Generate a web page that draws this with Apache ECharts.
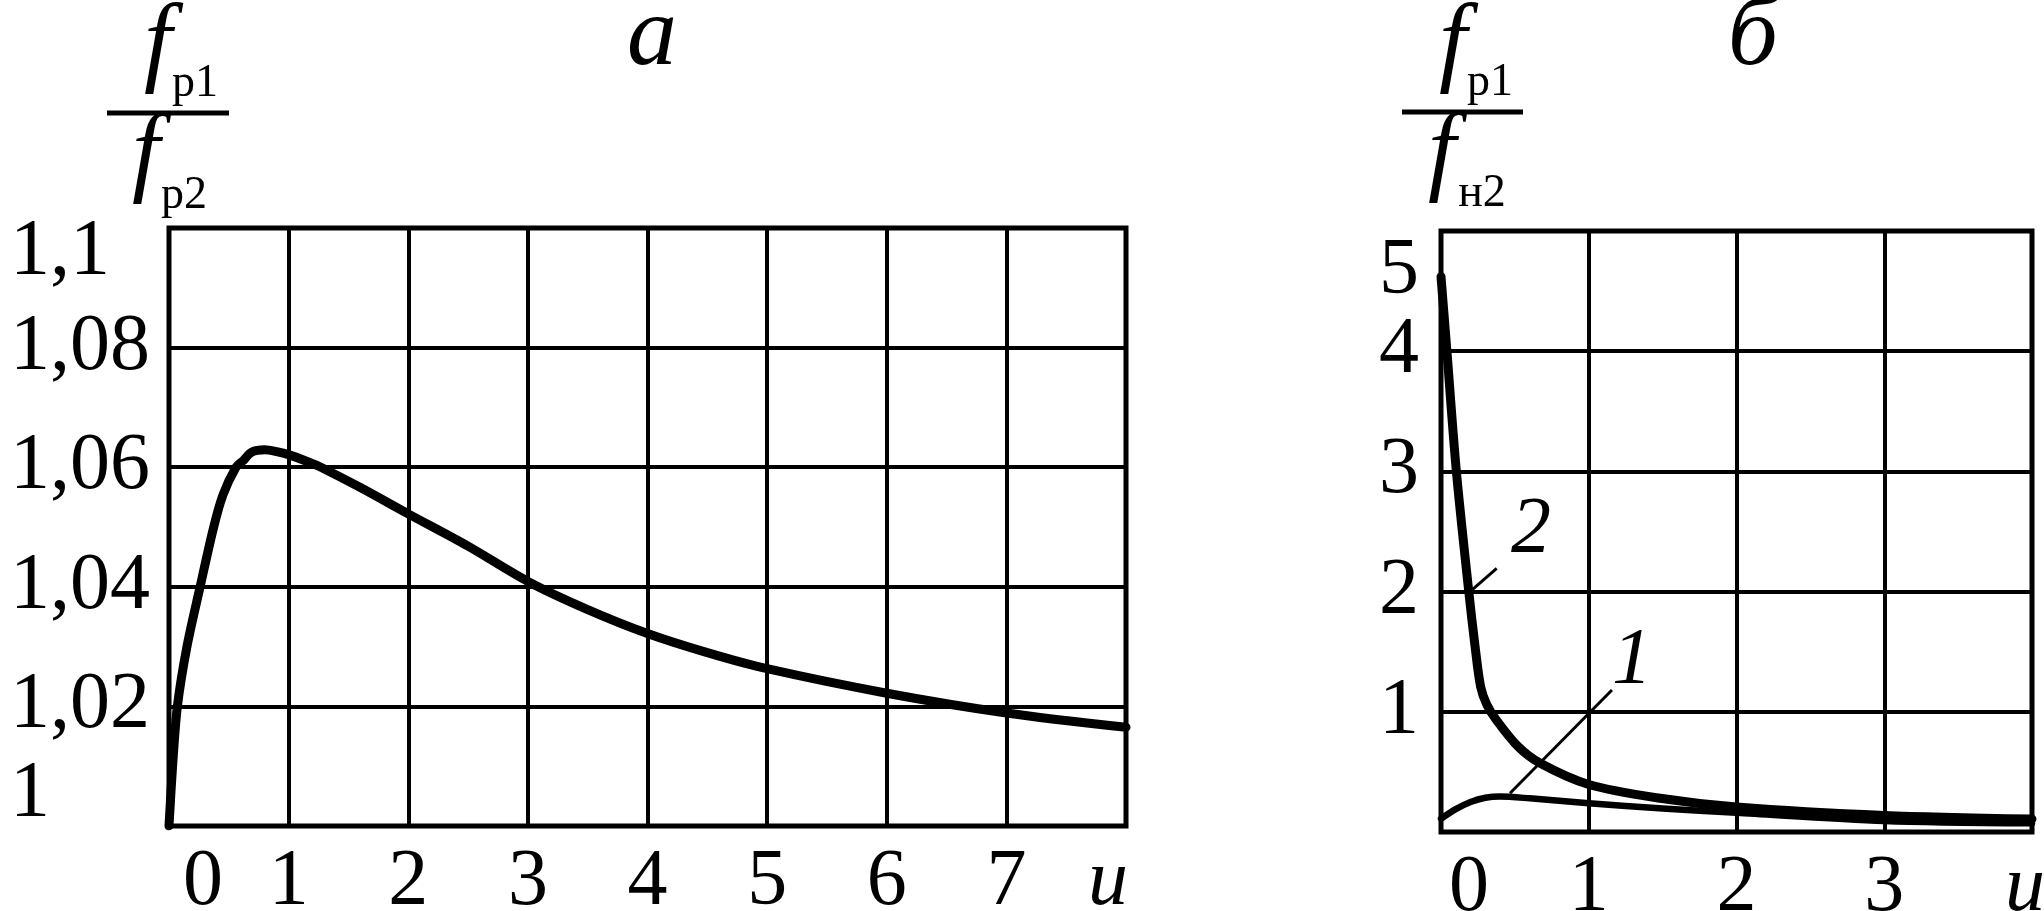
<!DOCTYPE html>
<html><head><meta charset="utf-8">
<script src="https://cdn.jsdelivr.net/npm/echarts@6/dist/echarts.min.js"></script>
<style>html,body{margin:0;padding:0;background:#fff}#c{width:2044px;height:911px}</style>
</head><body><div id="c"></div>
<script>
// ---- Chart а: f_p1/f_p2 vs u ----
const uA      = [0, 0.03, 0.07, 0.15, 0.26, 0.37, 0.45, 0.56, 0.62, 0.69, 0.8, 0.9, 1.0, 1.175, 1.27, 1.6, 2, 2.5, 3, 3.5, 4, 4.5, 5, 6, 7, 8];
const ratioA  = [1.0, 1.01, 1.02, 1.03, 1.04, 1.0497, 1.0553, 1.06, 1.0611, 1.0625, 1.0629, 1.0626, 1.0621, 1.0608, 1.06, 1.0566, 1.0522, 1.0468, 1.0409, 1.0362, 1.0322, 1.029, 1.0263, 1.0222, 1.0189, 1.0165];
// ---- Chart б: f_p1/f_н2 vs u ----
const uB1     = [0, 0.1, 0.2, 0.3, 0.4, 0.6, 1, 1.5, 2, 3, 4];
const ratioB1 = [0.11, 0.19, 0.25, 0.285, 0.295, 0.28, 0.24, 0.195, 0.16, 0.092, 0.072];
const uB2     = [0, 0.04, 0.104, 0.188, 0.23, 0.268, 0.31, 0.373, 0.52, 0.669, 1.0, 1.47, 2, 3, 4];
const ratioB2 = [4.62, 4.0, 3.0, 2.0, 1.55, 1.21, 1.06, 0.935, 0.713, 0.574, 0.395, 0.283, 0.208, 0.138, 0.108];
// curve tags and their leader lines (data coordinates)
const tagNames   = ['1', '2'];
const tagU       = [1.293, 0.609];
const tagV       = [1.414, 2.504];
const leader1U   = [0.467, 1.157];
const leader1V   = [0.322, 1.181];
const leader2U   = [0.208, 0.377];
const leader2V   = [2.013, 2.194];
// tick labels
const xTicksA = ['0','1','2','3','4','5','6','7','u'];
const yTicksA = ['1','1,02','1,04','1,06','1,08','1,1'];
const xTicksB = ['0','1','2','3','u'];
const yTicksB = ['','1','2','3','4','5'];

const FF = '"Liberation Serif", "Times New Roman", serif';
const zip = (a, b) => a.map((v, i) => [v, b[i]]);

const xLabel = (ticks, padL, padR) => ({
  margin: 17, showMinLabel: true, showMaxLabel: true, hideOverlap: false,
  fontSize: 80, fontFamily: FF, color: '#000',
  formatter: v => {
    const i = Math.round(v), t = ticks[i];
    if (i === 0) return '{z|' + t + '}';
    if (i === ticks.length - 1) return '{u|' + t + '}';
    return '{n|' + t + '}';
  },
  rich: {
    n: {fontSize: 80, fontFamily: FF, color: '#000'},
    z: {fontSize: 80, fontFamily: FF, color: '#000', padding: [0, 0, 0, padL]},
    u: {fontSize: 80, fontFamily: FF, color: '#000', fontStyle: 'italic', padding: [0, padR, 0, 0]}
  }
});
const split = {show: true, lineStyle: {color: '#000', width: 4}};
const yRich = (extra) => Object.assign({fontSize: 80, fontFamily: FF, color: '#000', lineHeight: 20}, extra || {});
const lastB = yTicksB.length - 1;

const chart = echarts.init(document.getElementById('c'), null, {renderer: 'canvas'});
const txt = (text, x, y, size, italic) => ({
  type: 'text', x: x, y: y, z: 10,
  style: {text: text, font: (italic ? 'italic ' : '') + size + 'px ' + FF, fill: '#000',
          textAlign: 'center', textVerticalAlign: 'middle', align: 'center', verticalAlign: 'middle'}
});
const bar = (x1, x2, y) => ({type: 'line', z: 10, shape: {x1: x1, y1: y, x2: x2, y2: y}, style: {stroke: '#000', lineWidth: 5}});

chart.setOption({
  backgroundColor: '#fff',
  animation: false,
  grid: [
    {left: 169, top: 228, width: 957, height: 598, show: true, borderColor: '#000', borderWidth: 5, backgroundColor: 'transparent',
     containLabel: false, outerBoundsMode: 'none'},
    {left: 1441, top: 231, width: 591, height: 601, show: true, borderColor: '#000', borderWidth: 5, backgroundColor: 'transparent',
     containLabel: false, outerBoundsMode: 'none'}
  ],
  xAxis: [
    {gridIndex: 0, type: 'value', min: 0, max: 8, interval: 1, axisLine: {show: false}, axisTick: {show: false},
     splitLine: split, axisLabel: xLabel(xTicksA, 68, 36)},
    {gridIndex: 1, type: 'value', min: 0, max: 4, interval: 1, axisLine: {show: false}, axisTick: {show: false},
     splitLine: split, axisLabel: xLabel(xTicksB, 56, 14)}
  ],
  yAxis: [
    {gridIndex: 0, type: 'value', min: 1.0, max: 1.1, interval: 0.02, axisLine: {show: false}, axisTick: {show: false},
     splitLine: split,
     axisLabel: {align: 'left', margin: 159, showMinLabel: true, showMaxLabel: true, hideOverlap: false, fontSize: 80, fontFamily: FF, color: '#000',
       formatter: v => {
         const i = Math.round((v - 1) / 0.02), t = yTicksA[i];
         if (i === yTicksA.length - 1) return '{top|' + t + '}';
         if (i === 0) return '{bot|' + t + '}';
         return '{n|' + t + '}';
       },
       rich: {
         n: yRich(),
         top: yRich({padding: [50, 0, 0, 0]}),
         bot: yRich({padding: [0, 0, 62, 0]})
       }}},
    // chart б: all labels except the top one
    {gridIndex: 1, type: 'value', min: 0, max: 5, interval: 1, axisLine: {show: false}, axisTick: {show: false},
     splitLine: split,
     axisLabel: {align: 'right', margin: 22, showMinLabel: true, showMaxLabel: true, hideOverlap: false, fontSize: 80, fontFamily: FF, color: '#000',
       formatter: v => {
         const i = Math.round(v), t = yTicksB[i];
         if (!t || i === lastB) return '';
         return t;
       }}},
    // chart б: the top label only (dropped a little below its line, as in the original)
    {gridIndex: 1, type: 'value', position: 'left', offset: 0, min: 0, max: 5, interval: 1,
     axisLine: {show: false}, axisTick: {show: false}, splitLine: {show: false},
     axisLabel: {align: 'right', margin: 22, showMinLabel: false, showMaxLabel: true, hideOverlap: false, fontSize: 80, fontFamily: FF, color: '#000',
       formatter: v => (Math.round(v) === lastB ? '{top|' + yTicksB[lastB] + '}' : ''),
       rich: {top: yRich({padding: [82, 0, 0, 0]})}}}
  ],
  series: [
    {type: 'line', xAxisIndex: 0, yAxisIndex: 0, data: zip(uA, ratioA), showSymbol: false, smooth: 0.3,
     lineStyle: {color: '#000', width: 9, cap: 'round', join: 'round'}, z: 5},
    {type: 'line', xAxisIndex: 1, yAxisIndex: 1, data: zip(uB1, ratioB1), showSymbol: false, smooth: 0.3,
     lineStyle: {color: '#000', width: 6.5, cap: 'round', join: 'round'}, z: 5},
    {type: 'line', xAxisIndex: 1, yAxisIndex: 1, data: zip(uB2, ratioB2), showSymbol: false, smooth: 0.3,
     lineStyle: {color: '#000', width: 9, cap: 'round', join: 'round'}, z: 5},
    {type: 'line', xAxisIndex: 1, yAxisIndex: 1, data: zip(leader1U, leader1V), showSymbol: false,
     lineStyle: {color: '#000', width: 3}, z: 5},
    {type: 'line', xAxisIndex: 1, yAxisIndex: 1, data: zip(leader2U, leader2V), showSymbol: false,
     lineStyle: {color: '#000', width: 3}, z: 5},
    {type: 'scatter', xAxisIndex: 1, yAxisIndex: 1, symbolSize: 0.001, itemStyle: {color: '#000'},
     data: tagNames.map((n, i) => ({value: [tagU[i], tagV[i]], name: n})),
     label: {show: true, position: 'inside', formatter: p => p.name, fontSize: 80, fontStyle: 'italic', fontFamily: FF,
             color: '#000', opacity: 1, textBorderWidth: 0}, z: 6}
  ],
  graphic: [
    txt('а', 652, 38, 100, true),
    txt('б', 1753, 38, 100, true),
    // fraction, chart а
    txt('f', 158, 47, 100, true),
    txt('р1', 195, 84, 46, false),
    bar(107, 229, 113),
    txt('f', 146, 157, 100, true),
    txt('р2', 184, 196, 46, false),
    // fraction, chart б
    txt('f', 1453, 47, 100, true),
    txt('р1', 1490, 83, 46, false),
    bar(1402, 1523, 112),
    txt('f', 1442, 156, 100, true),
    txt('н2', 1482, 194, 46, false)
  ]
});
</script></body></html>
